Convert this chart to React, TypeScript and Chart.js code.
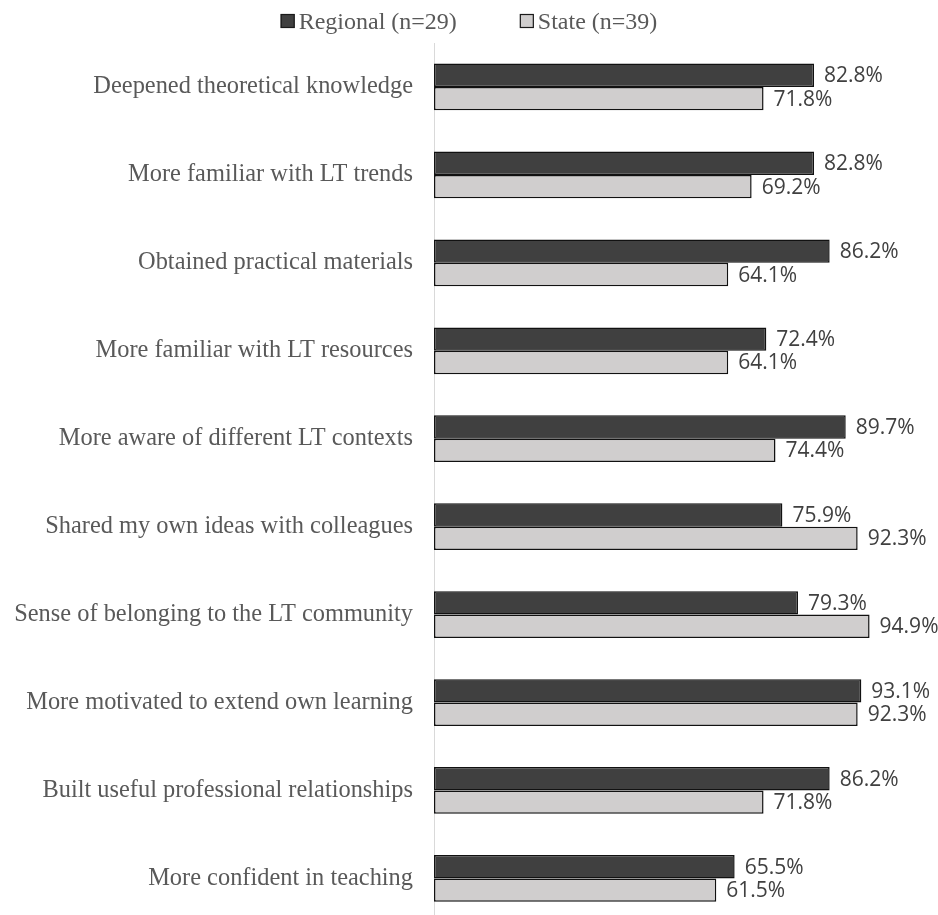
import React, { useEffect, useRef } from "react";
import { Chart, registerables } from "chart.js";

Chart.register(...registerables);

const categories = [
  "Deepened theoretical knowledge",
  "More familiar with LT trends",
  "Obtained practical materials",
  "More familiar with LT resources",
  "More aware of different LT contexts",
  "Shared my own ideas with colleagues",
  "Sense of belonging to the LT community",
  "More motivated to extend own learning",
  "Built useful professional relationships",
  "More confident in teaching",
];

const regionalValues = [82.8, 82.8, 86.2, 72.4, 89.7, 75.9, 79.3, 93.1, 86.2, 65.5];
const stateValues = [71.8, 69.2, 64.1, 64.1, 74.4, 92.3, 94.9, 92.3, 71.8, 61.5];

const seriesNames = ["Regional (n=29)", "State (n=39)"];
const seriesColors = ["#404040", "#d0cece"];

const SERIF = "'Liberation Serif', 'Times New Roman', serif";
const SANS = "'Open Sans', 'Liberation Sans', sans-serif";

const legendPlugin = {
  id: "customLegend",
  afterDraw(chart: any) {
    const ctx = chart.ctx;
    ctx.save();
    ctx.font = `24px ${SERIF}`;
    ctx.textBaseline = "alphabetic";
    const box = 14;
    const gapText = 4;
    const gapItems = 63;
    const widths = seriesNames.map((n) => ctx.measureText(n).width);
    const total = widths.reduce((a, w) => a + box + gapText + w, 0) + gapItems * (seriesNames.length - 1);
    let x = chart.width / 2 - total / 2;
    const boxTop = 14;
    const baseline = 28.5;
    seriesNames.forEach((name, i) => {
      ctx.fillStyle = seriesColors[i];
      ctx.fillRect(x, boxTop, box, box);
      ctx.strokeStyle = "#1a1a1a";
      ctx.lineWidth = 1.2;
      ctx.strokeRect(x + 0.5, boxTop + 0.5, box - 1, box - 1);
      ctx.fillStyle = "#595959";
      ctx.textAlign = "left";
      ctx.fillText(name, x + box + gapText, baseline);
      x += box + gapText + widths[i] + gapItems;
    });
    ctx.restore();
  },
};

const valueLabelPlugin = {
  id: "valueLabels",
  afterDatasetsDraw(chart: any) {
    const ctx = chart.ctx;
    ctx.save();
    ctx.font = `21px ${SANS}`;
    ctx.fillStyle = "#404040";
    ctx.textAlign = "left";
    ctx.textBaseline = "middle";
    chart.data.datasets.forEach((ds: any, di: number) => {
      const meta = chart.getDatasetMeta(di);
      meta.data.forEach((el: any, i: number) => {
        const v = ds.data[i] as number;
        ctx.fillText(v.toFixed(1) + "%", el.x + 10, el.y + 1);
      });
    });
    ctx.restore();
  },
};

export default function App() {
  const canvasRef = useRef<HTMLCanvasElement | null>(null);

  useEffect(() => {
    if (!canvasRef.current) return;
    const chart = new Chart(canvasRef.current, {
      type: "bar",
      data: {
        labels: categories,
        datasets: [
          {
            label: seriesNames[0],
            data: regionalValues,
            backgroundColor: seriesColors[0],
            borderColor: "#111111",
            borderWidth: 1.5,
            borderSkipped: false,
          },
          {
            label: seriesNames[1],
            data: stateValues,
            backgroundColor: seriesColors[1],
            borderColor: "#111111",
            borderWidth: 1.5,
            borderSkipped: false,
          },
        ],
      },
      options: {
        indexAxis: "y",
        animation: false,
        responsive: false,
        devicePixelRatio: 1,
        layout: { padding: { top: 43, right: 45, bottom: 0, left: 0 } },
        datasets: {
          bar: { categoryPercentage: 0.532, barPercentage: 1.0 },
        },
        plugins: {
          legend: { display: false },
          tooltip: { enabled: false },
        },
        scales: {
          x: {
            display: false,
            min: 0,
            max: 100,
          },
          y: {
            afterFit(scale: any) {
              scale.width = 434;
            },
            grid: { display: false, drawTicks: false },
            border: { display: true, color: "#d9d9d9", width: 1 },
            ticks: {
              color: "#595959",
              padding: 21,
              font: { family: SERIF, size: 24.4 },
              autoSkip: false,
            },
          },
        },
      },
      plugins: [legendPlugin, valueLabelPlugin],
    });
    return () => chart.destroy();
  }, []);

  return (
    <div
      style={{
        position: "absolute",
        left: 0,
        top: 0,
        width: 938,
        height: 915,
        overflow: "hidden",
        background: "#ffffff",
      }}
    >
      <canvas ref={canvasRef} width={938} height={958} style={{ display: "block" }} />
    </div>
  );
}
